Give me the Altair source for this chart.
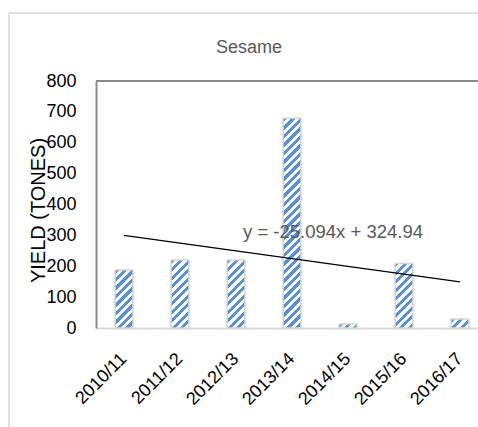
import altair as alt
import pandas as pd

# ---- data ----
seasons = ["2010/11", "2011/12", "2012/13", "2013/14", "2014/15", "2015/16", "2016/17"]
yields = [188, 220, 220, 679, 13, 209, 29]
trend_slope = -25.094
trend_intercept = 324.94
trend_label = "y = -25.094x + 324.94"
chart_title = "Sesame"
y_title = "YIELD (TONES)"
y_ticks = [0, 100, 200, 300, 400, 500, 600, 700, 800]

# ---- layout / style ----
PLOT_W = 382          # visible part of the plot area
RANGE_W = 392         # full band range (plot runs past the right edge)
PLOT_H = 247
Y_MAX = 800
PAD_INNER = 0.68
BAR_W = RANGE_W / len(seasons) * (1 - PAD_INNER)
BLUE = "#5b8fd6"
PERIOD = 8.5
FONT = "Liberation Sans"


def stripe_gradient(v):
    """Diagonal '/' stripes as a hard-stop linear gradient for one bar."""
    h = max(v / Y_MAX * PLOT_H, 1.0)
    w = BAR_W
    k = (w + h) / (w * w + h * h)
    total = w + h
    stops = []
    s = 0.0
    while s < total:
        a = s / total
        b = min((s + PERIOD / 2) / total, 1.0)
        c = min((s + PERIOD) / total, 1.0)
        stops += [
            {"offset": a, "color": BLUE},
            {"offset": b, "color": BLUE},
            {"offset": b, "color": "#ffffff"},
            {"offset": c, "color": "#ffffff"},
        ]
        s += PERIOD
    return {"gradient": "linear", "x1": 0, "y1": 0, "x2": k * w, "y2": k * h, "stops": stops}


df = pd.DataFrame({"season": seasons, "yield": yields})
trend_df = pd.DataFrame({
    "season": [seasons[0], seasons[-1]],
    "yield": [trend_slope * 1 + trend_intercept, trend_slope * len(seasons) + trend_intercept],
})
one = pd.DataFrame({"t": [""]})

x_scale = alt.Scale(domain=seasons, range=[0, RANGE_W], paddingInner=PAD_INNER, paddingOuter=PAD_INNER / 2)
y_scale = alt.Scale(domain=[0, Y_MAX], nice=False)

x_axis = alt.Axis(title=None, labelAngle=315, labelAlign="right", labelBaseline="middle",
                  labelPadding=28, labelFontSize=18, labelColor="black", labelFont=FONT,
                  ticks=False, tickSize=0, domainColor="#d9d9d9", domainWidth=2, grid=False,
                  labelOverlap=False)
y_axis = alt.Axis(values=y_ticks, title=y_title, titleAngle=270, titleX=-58, titleY=129,
                  titleAlign="center", titleBaseline="middle", titleFontSize=20,
                  titleFontWeight="normal", titleColor="black", titleFont=FONT,
                  labelFontSize=18, labelColor="black", labelFont=FONT, labelPadding=20,
                  ticks=False, tickSize=0, domainColor="#8a8a8a", domainWidth=2, grid=False)

X = alt.X("season:N", scale=x_scale, sort=seasons, axis=x_axis, title=None)
Y = alt.Y("yield:Q", scale=y_scale, axis=y_axis, title=y_title)

layers = []

# outer chart-area border (light grey)
layers.append(alt.Chart(one).mark_rule(color="#d9d9d9", strokeWidth=1.5).encode(
    x=alt.value(-87), y=alt.value(-68), y2=alt.value(PLOT_H + 120)))
layers.append(alt.Chart(one).mark_rule(color="#d9d9d9", strokeWidth=1.5).encode(
    x=alt.value(-87), x2=alt.value(RANGE_W), y=alt.value(-68)))
# plot-area top border
layers.append(alt.Chart(one).mark_rule(color="#8a8a8a", strokeWidth=2).encode(
    x=alt.value(0), x2=alt.value(RANGE_W), y=alt.value(0)))

# bars, one layer per bar so each has its own stripe fill
for s, v in zip(seasons, yields):
    layers.append(
        alt.Chart(df).transform_filter(alt.datum.season == s)
        .mark_bar(fill=stripe_gradient(v), stroke="#d4d4d4", strokeWidth=1.5)
        .encode(x=X, y=Y)
    )

# linear trend line
layers.append(alt.Chart(trend_df).mark_line(color="black", strokeWidth=1.2).encode(x=X, y=Y))

# trend equation
layers.append(alt.Chart(pd.DataFrame({"t": [trend_label]})).mark_text(
    align="left", baseline="alphabetic", fontSize=18.5, color="#595959", font=FONT
).encode(x=alt.value(147), y=alt.value(157), text="t:N"))

# chart title
layers.append(alt.Chart(pd.DataFrame({"t": [chart_title]})).mark_text(
    align="center", baseline="alphabetic", fontSize=18, color="#595959", font=FONT
).encode(x=alt.value(153), y=alt.value(-28), text="t:N"))

chart = alt.layer(*layers).properties(
    width=PLOT_W, height=PLOT_H,
    autosize=alt.AutoSizeParams(type="none"),
    padding={"left": 96, "top": 81, "right": 0, "bottom": 99},
    background="white",
).configure_view(stroke=None).configure(font=FONT)

chart.save("out.html", embed_options={"renderer": "svg", "actions": False})
